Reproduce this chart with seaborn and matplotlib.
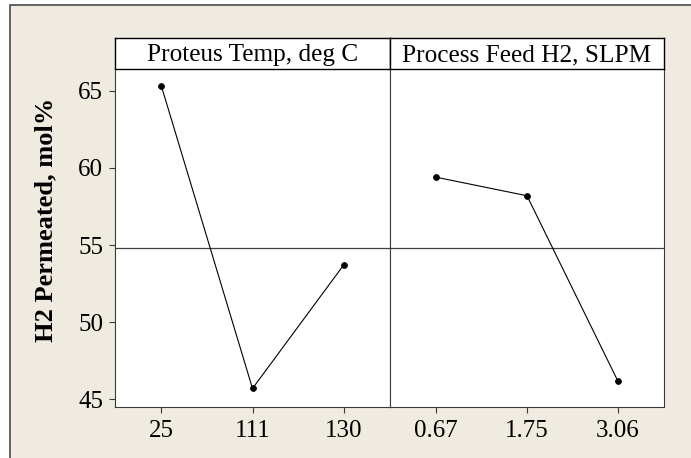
import matplotlib
matplotlib.use("Agg")
import matplotlib.pyplot as plt
import seaborn as sns
import pandas as pd
from matplotlib.patches import Rectangle

# ---- data ----
temp_levels = ["25", "111", "130"]
temp_means = [65.3, 45.7, 53.7]
feed_levels = ["0.67", "1.75", "3.06"]
feed_means = [59.4, 58.2, 46.2]
grand_mean = 54.83
factor_titles = ["Proteus Temp, deg C", "Process Feed H2, SLPM"]
y_ticks = [45, 50, 55, 60, 65]
y_label = "H2 Permeated, mol%"

sns.set_theme(style="white")
plt.rcParams["font.family"] = ["Liberation Serif", "DejaVu Serif"]

W, H = 691, 458
fig = plt.figure(figsize=(W / 100, H / 100), dpi=100, facecolor="white")

# beige frame
frame = Rectangle((10 / W, -0.01), 1.0, 1 - 5 / H + 0.01, transform=fig.transFigure,
                  facecolor="#EFEBE1", edgecolor="#4a4a4a", linewidth=1.2, zorder=-10)
fig.add_artist(frame)

spine_col = "#3a3a3a"
bottom = (H - 407) / H
height = (407 - 69) / H
strip_b = (H - 69) / H
strip_h = 31 / H
panels = [(115, 390), (390, 664)]
datasets = [(temp_levels, temp_means), (feed_levels, feed_means)]

for i, ((x0, x1), (lv, vals), title) in enumerate(zip(panels, datasets, factor_titles)):
    ax = fig.add_axes([x0 / W, bottom, (x1 - x0) / W, height])
    ax.set_zorder(1)
    ax.set_facecolor("white")
    df = pd.DataFrame({"level": lv, "mean": vals})
    sns.pointplot(data=df, x="level", y="mean", order=lv, color="black",
                  markers="o", markersize=4.2, linewidth=0.8, errorbar=None, ax=ax)
    ax.axhline(grand_mean, color="#404040", linewidth=0.9, zorder=1)
    ax.set_xlim(-0.51, 2.51)
    ax.set_ylim(44.5, 66.42)
    ax.set_xlabel("")
    ax.set_ylabel("")
    for s in ax.spines.values():
        s.set_color(spine_col)
        s.set_linewidth(0.8)
    ax.spines["top"].set_visible(False)
    ax.tick_params(axis="x", bottom=True, length=4.5, width=0.8, color=spine_col,
                   labelsize=18, pad=5, labelcolor="black")
    if i == 0:
        ax.set_yticks(y_ticks)
        ax.tick_params(axis="y", left=True, length=4, width=0.8, color=spine_col,
                       labelsize=18, pad=4.5, labelcolor="black")
    else:
        ax.set_yticks([])
    # strip
    sax = fig.add_axes([x0 / W, strip_b, (x1 - x0) / W, strip_h])
    sax.set_zorder(1)
    sax.set_facecolor("white")
    sax.set_xticks([])
    sax.set_yticks([])
    for s in sax.spines.values():
        s.set_color("black")
        s.set_linewidth(1.0)
    sax.text(0.5, 0.45, title, ha="center", va="center", fontsize=18.2, color="black",
             transform=sax.transAxes)

fig.text(46 / W, 1 - 220 / H, y_label, rotation=90, ha="center", va="center",
         fontsize=19, fontweight="bold", color="black")

fig.savefig("out.png", dpi=100, facecolor=fig.get_facecolor())
